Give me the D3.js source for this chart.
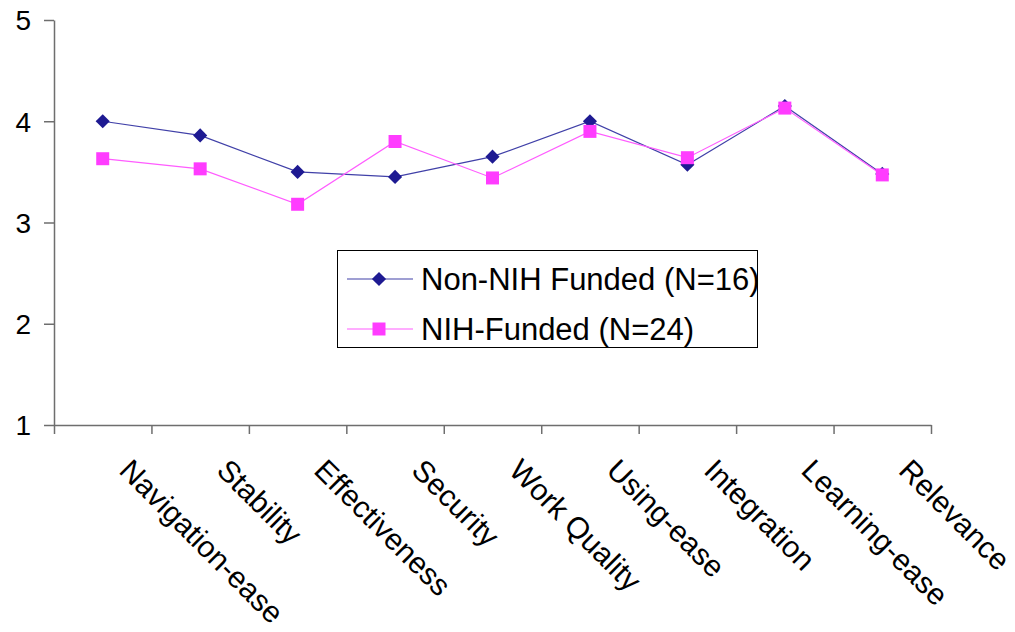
<!DOCTYPE html>
<html>
<head>
<meta charset="utf-8">
<script src="https://cdn.jsdelivr.net/npm/d3@7"></script>
<style>
  html, body { margin: 0; padding: 0; background: #fff; }
  svg { display: block; font-family: "Liberation Sans", Arial, sans-serif; }
</style>
</head>
<body>
<svg id="chart" width="1015" height="632"></svg>
<script>
// Survey ratings by category for two groups of respondents
const categories = ["Navigation-ease", "Stability", "Effectiveness", "Security", "Work Quality",
                    "Using-ease", "Integration", "Learning-ease", "Relevance"];
const nonNihValues = [4.00, 3.86, 3.50, 3.45, 3.65, 4.00, 3.57, 4.15, 3.48];
const nihValues    = [3.63, 3.53, 3.18, 3.80, 3.44, 3.90, 3.64, 4.13, 3.47];
const yTicks = [1, 2, 3, 4, 5];
const seriesNames = ["Non-NIH Funded (N=16)", "NIH-Funded (N=24)"];

const svg = d3.select("#chart");
const plotLeft = 54, plotRight = 931, plotTop = 20, plotBottom = 425;

const x = d3.scaleBand().domain(categories).range([plotLeft, plotRight]).padding(0);
const xEdge = d3.scaleLinear().domain([0, categories.length]).range([plotLeft, plotRight]);
const y = d3.scaleLinear().domain([1, 5]).range([plotBottom, plotTop]);

const axisColor = "#6e6e6e";

// Category axis: tick marks at the band boundaries
const gx = svg.append("g").attr("transform", `translate(0,${plotBottom})`)
  .call(d3.axisBottom(xEdge).tickValues(d3.range(categories.length + 1))
    .tickSize(9).tickSizeOuter(0).tickFormat(""));
gx.selectAll("path, line").attr("stroke", axisColor).attr("stroke-width", 1.5);

// Value axis
const gy = svg.append("g").attr("transform", `translate(${plotLeft},0)`)
  .call(d3.axisLeft(y).tickValues(yTicks).tickSize(10).tickSizeOuter(0).tickPadding(13)
    .tickFormat(d3.format("d")));
gy.selectAll("path, line").attr("stroke", axisColor).attr("stroke-width", 1.5);
gy.selectAll("text").attr("font-size", 28).attr("fill", "#000")
  .attr("font-family", "'Liberation Sans', Arial, sans-serif").attr("dy", "0.35em");

// Rotated category labels
svg.append("g").selectAll("text").data(categories).join("text")
  .attr("transform", d => `translate(${x(d) + x.bandwidth() / 2 + 15},${plotBottom + 47}) rotate(45)`)
  .attr("font-size", 30).attr("fill", "#000")
  .text(d => d);

const series = [
  { name: seriesNames[0], values: nonNihValues, line: "#4040a8", fill: "#1e1a92", shape: "diamond" },
  { name: seriesNames[1], values: nihValues, line: "#ff5cff", fill: "#ff3cff", shape: "square" }
];

const diamond = d3.symbol().type(d3.symbolSquare).size(100);
const square = d3.symbol().type(d3.symbolSquare).size(169);

function marker(sel, s) {
  if (s.shape === "diamond") {
    sel.append("path").attr("d", diamond()).attr("transform", "rotate(45)").attr("fill", s.fill);
  } else {
    sel.append("path").attr("d", square()).attr("fill", s.fill);
  }
}

const line = d3.line().x((d, i) => x(categories[i]) + x.bandwidth() / 2).y(d => y(d));

series.forEach(s => {
  svg.append("path").datum(s.values).attr("d", line)
    .attr("fill", "none").attr("stroke", s.line).attr("stroke-width", 1.2);
});
series.forEach(s => {
  svg.append("g").selectAll("g").data(s.values).join("g")
    .attr("transform", (d, i) => `translate(${x(categories[i]) + x.bandwidth() / 2},${y(d)})`)
    .each(function () { marker(d3.select(this), s); });
});

// Legend
const lg = svg.append("g");
lg.append("rect").attr("x", 337.5).attr("y", 250.5).attr("width", 420).attr("height", 97)
  .attr("fill", "#fff").attr("stroke", "#000").attr("stroke-width", 1);
series.forEach((s, i) => {
  const ly = 279 + i * 50;
  lg.append("line").attr("x1", 347).attr("x2", 413).attr("y1", ly).attr("y2", ly)
    .attr("stroke", s.line).attr("stroke-width", 1.2);
  const m = lg.append("g").attr("transform", `translate(379,${ly})`);
  marker(m, s);
  lg.append("text").attr("x", 421).attr("y", ly).attr("dy", "0.36em")
    .attr("font-size", 31).attr("fill", "#000").text(s.name);
});
</script>
</body>
</html>
